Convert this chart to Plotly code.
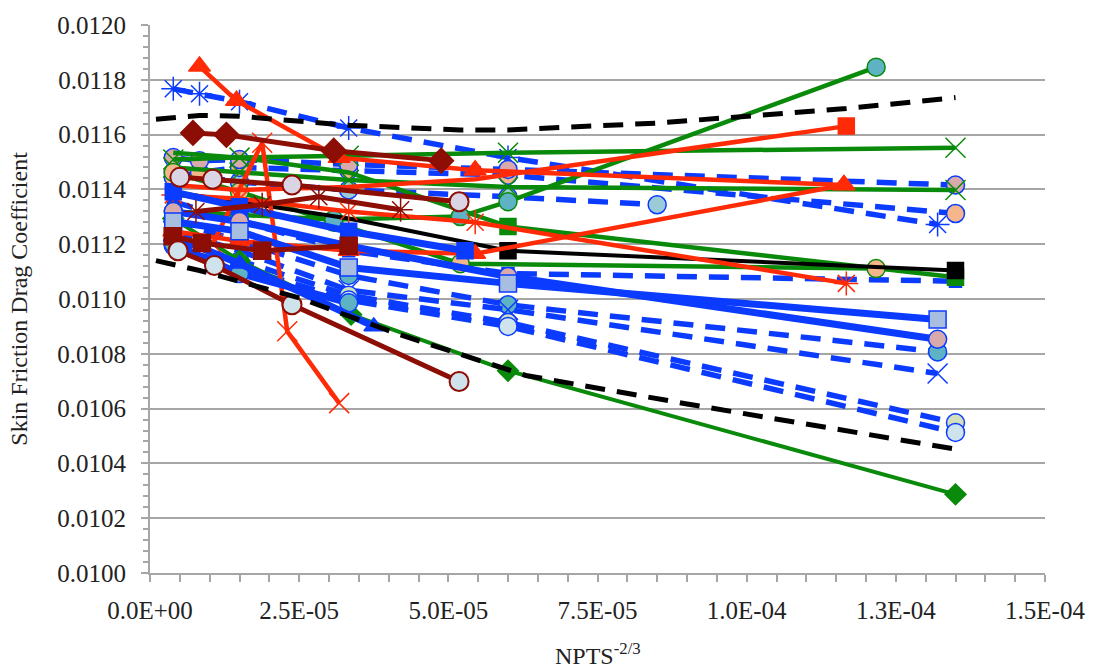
import plotly.graph_objects as go

# ---------------- data (NPTS^-2/3, Cf) ----------------
ext_hi_x = [1.0e-6, 8.3e-6, 1.5e-5, 3.33e-5, 5.2e-5, 6.0e-5, 8.5e-5, 1.167e-4, 1.35e-4]
ext_hi_y = [0.011656, 0.011670, 0.011667, 0.011634, 0.011617, 0.011617, 0.011642, 0.011695, 0.011735]
ext_lo_x = [1.0e-6, 8.3e-6, 2.5e-5, 4.17e-5, 6.3e-5, 9.0e-5, 1.35e-4]
ext_lo_y = [0.011140, 0.011104, 0.011004, 0.010871, 0.010721, 0.010617, 0.010452]

blk_sq_x = [3.9e-6, 1.5e-5, 3.33e-5, 6.0e-5, 1.35e-4]
blk_sq_y = [0.011391, 0.011355, 0.011294, 0.011176, 0.011104]

grn_dia_x = [3.9e-6, 1.5e-5, 3.37e-5, 6.0e-5, 1.35e-4]
grn_dia_y = [0.011294, 0.011140, 0.010943, 0.010738, 0.010287]
grn_teal_x = [3.9e-6, 1.5e-5, 3.08e-5, 5.2e-5, 6.0e-5, 1.217e-4]
grn_teal_y = [0.011319, 0.011308, 0.011290, 0.011301, 0.011355, 0.011846]
grn_org_x = [3.9e-6, 1.5e-5, 3.08e-5, 5.2e-5, 1.217e-4]
grn_org_y = [0.011462, 0.011391, 0.011280, 0.011129, 0.011111]
grn_xa_x = [3.9e-6, 1.5e-5, 3.33e-5, 6.0e-5, 1.35e-4]
grn_xa_y = [0.011509, 0.011516, 0.011523, 0.011534, 0.011552]
grn_xb_x = [3.9e-6, 1.5e-5, 3.33e-5, 6.0e-5, 1.35e-4]
grn_xb_y = [0.011480, 0.011462, 0.011434, 0.011409, 0.011398]
grn_sq_x = [3.9e-6, 1.5e-5, 3.33e-5, 6.0e-5, 1.35e-4]
grn_sq_y = [0.011534, 0.011516, 0.011462, 0.011265, 0.011079]

red_tri_x = [8.3e-6, 1.45e-5, 3.17e-5, 5.45e-5, 1.163e-4]
red_tri_y = [0.011849, 0.011724, 0.011516, 0.011470, 0.011416]
red_sq_x = [3.9e-6, 1.5e-5, 3.33e-5, 5.45e-5, 1.167e-4]
red_sq_y = [0.011416, 0.011398, 0.011409, 0.011437, 0.011631]
red_tri2_x = [3.9e-6, 1.5e-5, 3.33e-5, 5.45e-5, 1.163e-4]
red_tri2_y = [0.011247, 0.011212, 0.011176, 0.011165, 0.011416]
red_ast_x = [3.9e-6, 1.5e-5, 3.33e-5, 5.45e-5, 1.167e-4]
red_ast_y = [0.011380, 0.011366, 0.011319, 0.011280, 0.011057]
red_x_x = [1.05e-5, 1.88e-5, 2.3e-5, 3.17e-5]
red_x_y = [0.011201, 0.011570, 0.010882, 0.010620]

dr_dia_x = [7.2e-6, 1.28e-5, 3.08e-5, 4.88e-5]
dr_dia_y = [0.011606, 0.011599, 0.011541, 0.011505]
dr_ast_x = [7.7e-6, 1.88e-5, 2.83e-5, 4.2e-5]
dr_ast_y = [0.011319, 0.011344, 0.011373, 0.011326]
dr_sq_x = [3.8e-6, 8.7e-6, 1.88e-5, 3.33e-5]
dr_sq_y = [0.011229, 0.011204, 0.011176, 0.011194]
dr_lav_x = [5.0e-6, 1.05e-5, 2.38e-5, 5.18e-5]
dr_lav_y = [0.011444, 0.011437, 0.011416, 0.011355]
dr_pb_x = [4.7e-6, 1.08e-5, 2.38e-5, 5.18e-5]
dr_pb_y = [0.011176, 0.011122, 0.010979, 0.010699]

bs_sq_x = [3.9e-6, 1.5e-5, 3.33e-5, 6.0e-5, 1.32e-4]
bs_sq_y = [0.011283, 0.011247, 0.011115, 0.011057, 0.010925]
bs_pk_x = [3.9e-6, 1.5e-5, 3.33e-5, 6.0e-5, 1.32e-4]
bs_pk_y = [0.011319, 0.011283, 0.011194, 0.011082, 0.010853]
bs_tri_x = [3.9e-6, 1.5e-5, 3.75e-5]
bs_tri_y = [0.011229, 0.011129, 0.010900]
bs_bsq_x = [3.9e-6, 1.5e-5, 3.33e-5, 5.28e-5]
bs_bsq_y = [0.011391, 0.011337, 0.011247, 0.011176]
bs_teal_x = [3.9e-6, 1.5e-5, 3.33e-5]
bs_teal_y = [0.011201, 0.011093, 0.010986]

bd_pk_x = [3.9e-6, 8.3e-6, 1.5e-5, 3.33e-5, 6.0e-5, 1.35e-4]
bd_pk_y = [0.011516, 0.011505, 0.011509, 0.011491, 0.011473, 0.011416]
bd_pe_x = [3.9e-6, 8.3e-6, 1.5e-5, 3.33e-5, 6.0e-5, 1.35e-4]
bd_pe_y = [0.011444, 0.011462, 0.011480, 0.011470, 0.011452, 0.011312]
bd_ast_x = [3.9e-6, 8.3e-6, 1.5e-5, 3.33e-5, 6.0e-5, 1.32e-4]
bd_ast_y = [0.011767, 0.011749, 0.011720, 0.011624, 0.011516, 0.011272]
bd_lb_x = [3.9e-6, 1.5e-5, 3.33e-5, 6.0e-5, 8.5e-5]
bd_lb_y = [0.011462, 0.011427, 0.011398, 0.011373, 0.011344]
bd_sq_x = [3.9e-6, 1.5e-5, 3.33e-5, 6.0e-5, 1.35e-4]
bd_sq_y = [0.011355, 0.011283, 0.011176, 0.011093, 0.011065]
bd_teal_x = [3.9e-6, 1.5e-5, 3.33e-5, 6.0e-5, 1.32e-4]
bd_teal_y = [0.011283, 0.011212, 0.011086, 0.010979, 0.010807]
bd_x_x = [3.9e-6, 1.5e-5, 3.33e-5, 6.0e-5, 1.32e-4]
bd_x_y = [0.011247, 0.011176, 0.011032, 0.010961, 0.010728]
bd_pg_x = [3.9e-6, 1.5e-5, 3.33e-5, 6.0e-5, 1.35e-4]
bd_pg_y = [0.011212, 0.011140, 0.011014, 0.010914, 0.010548]
bd_pb_x = [3.9e-6, 1.5e-5, 3.33e-5, 6.0e-5, 1.35e-4]
bd_pb_y = [0.011194, 0.011115, 0.010996, 0.010900, 0.010513]

x_tickvals = [0, 2.5e-5, 5.0e-5, 7.5e-5, 1.0e-4, 1.25e-4, 1.5e-4]
x_ticktext = ["0.0E+00", "2.5E-05", "5.0E-05", "7.5E-05", "1.0E-04", "1.3E-04", "1.5E-04"]

# ---------------- styles ----------------
BLUE = "#0B3BFF"
GREEN = "#0A8A0A"
RED = "#FF2B06"
DRED = "#8C0E04"
BLACK = "#000000"
PINK = "#D8AAAC"
PEACH = "#F4B68A"
PGREEN = "#D4DFBC"
PBLUE = "#CFE3EC"
TEAL = "#5DB3C4"
LBLUE = "#A8BEE0"
LAV = "#D9D5E4"
DASH = "20px,12px"

fig = go.Figure()


def add(x, y, color, width=4, dash="solid", symbol=None, size=18, fill=None,
        mline=None, mlw=1.5):
    if symbol is None:
        fig.add_trace(go.Scatter(x=x, y=y, mode="lines",
                                 line=dict(color=color, width=width, dash=dash)))
        return
    if symbol in ("x-thin", "asterisk"):
        marker = dict(symbol=symbol + "-open" if symbol == "asterisk" else symbol,
                      size=size, color=color, opacity=1,
                      line=dict(color=color, width=mlw))
    else:
        marker = dict(symbol=symbol, size=size, color=fill or color, opacity=1,
                      line=dict(color=mline or color, width=mlw))
    fig.add_trace(go.Scatter(x=x, y=y, mode="lines+markers",
                             line=dict(color=color, width=width, dash=dash),
                             marker=marker))


# blue dashed
add(bd_sq_x, bd_sq_y, BLUE, 5.5, DASH, "square", 12, BLUE)
add(bd_teal_x, bd_teal_y, BLUE, 5.5, DASH, "circle", 18, TEAL, BLUE)
add(bd_x_x, bd_x_y, BLUE, 5.5, DASH, "x-thin", 20)
add(bd_pg_x, bd_pg_y, BLUE, 5.5, DASH, "circle", 18, PGREEN, BLUE)
add(bd_pb_x, bd_pb_y, BLUE, 5.5, DASH, "circle", 18, PBLUE, BLUE)
add(bd_lb_x, bd_lb_y, BLUE, 5.5, DASH, "circle", 18, "#9CCBD8", BLUE)
add(bd_ast_x, bd_ast_y, BLUE, 5.5, DASH, "asterisk", 20)
add(bd_pe_x, bd_pe_y, BLUE, 5.5, DASH, "circle", 18, PEACH, BLUE)
add(bd_pk_x, bd_pk_y, BLUE, 5.5, DASH, "circle", 18, PINK, BLUE)

# green
add(grn_dia_x, grn_dia_y, GREEN, 4, "solid", "diamond", 16, GREEN)
add(grn_sq_x, grn_sq_y, GREEN, 4.5, "solid", "square", [0, 0, 0, 16, 16], GREEN)
add(grn_xa_x, grn_xa_y, GREEN, 4.5, "solid", "x-thin", 20)
add(grn_xb_x, grn_xb_y, GREEN, 4.5, "solid", "x-thin", 20)
add(grn_org_x, grn_org_y, GREEN, 4.5, "solid", "circle", 18, PEACH, GREEN)
add(grn_teal_x, grn_teal_y, GREEN, 4.5, "solid", "circle", 18, TEAL, GREEN)

# black solid
add(blk_sq_x, blk_sq_y, BLACK, 4, "solid", "square", [0, 0, 0, 16, 16], BLACK)

# red
add(red_tri2_x, red_tri2_y, RED, 4.5, "solid", "triangle-up", 18, RED)
add(red_ast_x, red_ast_y, RED, 4.5, "solid", "asterisk", 20)
add(red_sq_x, red_sq_y, RED, 4.5, "solid", "square", [0, 0, 0, 0, 16], RED)
add(red_tri_x, red_tri_y, RED, 4.5, "solid", "triangle-up", 19, RED)
add(red_x_x, red_x_y, RED, 4.5, "solid", "x-thin", 20)

# blue solid
add(bs_teal_x, bs_teal_y, BLUE, 7, "solid", "circle", 18, TEAL, BLUE)
add(bs_tri_x, bs_tri_y, BLUE, 7, "solid", "triangle-up", 17, BLUE)
add(bs_bsq_x, bs_bsq_y, BLUE, 7, "solid", "square", 16, BLUE)
add(bs_pk_x, bs_pk_y, BLUE, 7, "solid", "circle", 18, PINK, BLUE)
add(bs_sq_x, bs_sq_y, BLUE, 7, "solid", "square", 17, LBLUE, BLUE)

# dark red
add(dr_sq_x, dr_sq_y, DRED, 5, "solid", "square", 17, DRED)
add(dr_ast_x, dr_ast_y, DRED, 5, "solid", "asterisk", 20)
add(dr_dia_x, dr_dia_y, DRED, 5, "solid", "diamond", 19, DRED)
add(dr_lav_x, dr_lav_y, DRED, 5, "solid", "circle", 19, LAV, DRED, 2)
add(dr_pb_x, dr_pb_y, DRED, 5, "solid", "circle", 19, PBLUE, DRED, 2)

# black dashed
add(ext_hi_x, ext_hi_y, BLACK, 5, DASH)
add(ext_lo_x, ext_lo_y, BLACK, 5, DASH)

FONT = "Liberation Serif"
GRAY = "#A6A6A6"
TXT = "#222222"
fig.update_layout(
    width=1097, height=672,
    margin=dict(l=150, r=47, t=15, b=99),
    plot_bgcolor="white", paper_bgcolor="white",
    showlegend=False,
    font=dict(family=FONT, size=25, color=TXT),
    xaxis=dict(range=[0, 1.5e-4], tickvals=x_tickvals, ticktext=x_ticktext,
               showgrid=False, zeroline=False, showline=True, linecolor=GRAY,
               linewidth=2, ticks="outside", ticklen=7, tickwidth=1.5,
               tickcolor=GRAY, ticklabelstandoff=7,
               tickfont=dict(family=FONT, size=25, color=TXT),
               minor=dict(dtick=5e-6, ticks="outside", ticklen=7,
                          tickcolor=GRAY, tickwidth=1.5, showgrid=False)),
    yaxis=dict(range=[0.0100, 0.0120], dtick=0.0002, tick0=0.0100,
               tickformat=".4f", showgrid=True, gridcolor=GRAY, gridwidth=1.5,
               zeroline=False, showline=True, linecolor=GRAY, linewidth=2,
               ticks="outside", ticklen=7, tickwidth=1.5, tickcolor=GRAY,
               ticklabelstandoff=10,
               tickfont=dict(family=FONT, size=25, color=TXT),
               minor=dict(dtick=0.00004, ticks="outside", ticklen=5,
                          tickcolor=GRAY, tickwidth=1.5, showgrid=False)),
    annotations=[
        dict(text="Skin Friction Drag Coefficient", xref="paper", yref="paper",
             x=-0.1467, y=0.5, xanchor="center", yanchor="middle",
             textangle=-90, showarrow=False,
             font=dict(family=FONT, size=24, color=TXT)),
        dict(text="NPTS<sup>-2/3</sup>", xref="paper", yref="paper",
             x=0.5, y=-0.147, xanchor="center", yanchor="middle",
             showarrow=False, font=dict(family=FONT, size=24, color=TXT)),
    ],
)

fig.write_html("out.html")
